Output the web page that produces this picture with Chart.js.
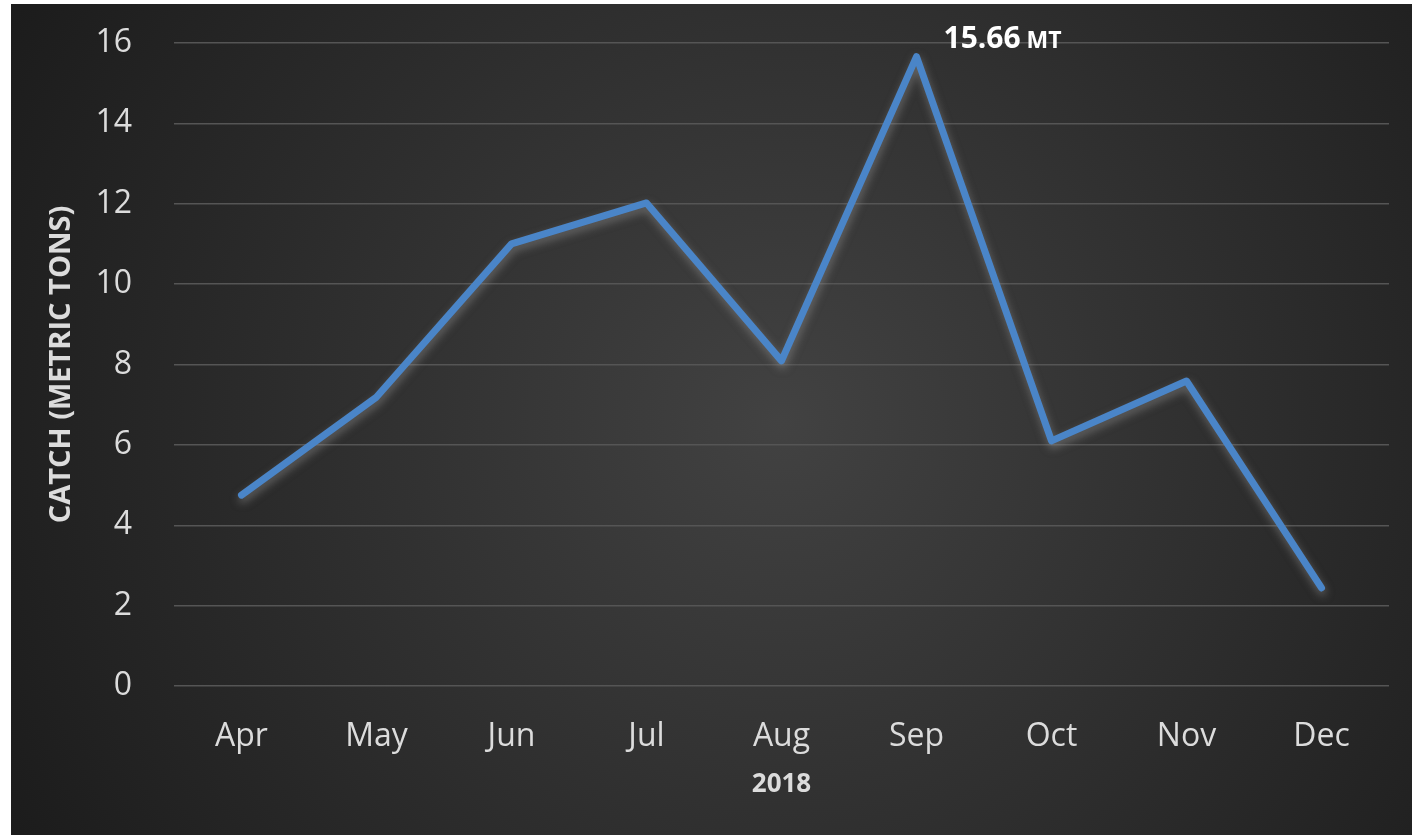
<!DOCTYPE html>
<html><head><meta charset="utf-8">
<script src="https://cdn.jsdelivr.net/npm/chart.js@4.4.1/dist/chart.umd.min.js"></script>
<style>
html,body{margin:0;padding:0;background:#fff;width:1412px;height:836px;overflow:hidden}
#wrap{position:absolute;left:11px;top:4px;width:1401px;height:831px;}
</style></head>
<body><div id="wrap"><canvas id="c"></canvas></div>
<script>
const months = ["Apr","May","Jun","Jul","Aug","Sep","Oct","Nov","Dec"];
const catchTons = [4.75, 7.19, 11.0, 12.02, 8.09, 15.66, 6.1, 7.59, 2.44];
const peakIndex = 5;
const peakValueText = "15.66";
const peakUnitText = "MT";
const yAxisTitle = "CATCH (METRIC TONS)";
const xAxisTitle = "2018";

const FONT = "'Open Sans', 'Noto Sans', sans-serif";

const bgPlugin = {
  id: 'bg',
  beforeDraw(chart) {
    const {ctx, width, height} = chart;
    ctx.save();
    const g = ctx.createRadialGradient(width*0.55, height*0.5, 0, width*0.55, height*0.5, width*0.62);
    g.addColorStop(0, '#424242');
    g.addColorStop(1, '#1c1c1c');
    ctx.fillStyle = g;
    ctx.fillRect(0, 0, width, height);
    ctx.restore();
  }
};

const shadowPlugin = {
  id: 'lineShadow',
  beforeDatasetDraw(chart) {
    const ctx = chart.ctx;
    ctx.save();
    ctx.shadowColor = 'rgba(150,150,150,0.55)';
    ctx.shadowBlur = 9;
    ctx.shadowOffsetX = 1;
    ctx.shadowOffsetY = 4;
  },
  afterDatasetDraw(chart) {
    chart.ctx.restore();
  }
};

const labelPlugin = {
  id: 'peakLabel',
  afterDatasetsDraw(chart) {
    const meta = chart.getDatasetMeta(0);
    const pt = meta.data[peakIndex];
    const ctx = chart.ctx;
    ctx.save();
    ctx.fillStyle = '#ffffff';
    ctx.textBaseline = 'alphabetic';
    ctx.textAlign = 'left';
    ctx.font = "bold 30px " + FONT;
    const x0 = pt.x + 27;
    const base = pt.y - 9;
    ctx.fillText(peakValueText, x0, base);
    const w = ctx.measureText(peakValueText + " ").width;
    ctx.font = "bold 23px " + FONT;
    ctx.fillText(peakUnitText, x0 + w - 2, base);
    ctx.restore();
  }
};

new Chart(document.getElementById('c'), {
  type: 'line',
  data: {
    labels: months,
    datasets: [{
      data: catchTons,
      borderColor: '#4A85C8',
      borderWidth: 7,
      borderCapStyle: 'round',
      borderJoinStyle: 'round',
      pointRadius: 0,
      pointHoverRadius: 0,
      tension: 0,
      fill: false
    }]
  },
  options: {
    responsive: true,
    maintainAspectRatio: false,
    animation: false,
    events: [],
    layout: { padding: { top: 39, right: 23, left: 0, bottom: 0 } },
    plugins: { legend: { display: false }, tooltip: { enabled: false } },
    scales: {
      x: {
        offset: true,
        grid: { display: false, drawTicks: false },
        border: { display: false },
        ticks: { color: '#dcdcdc', font: { family: FONT, size: 32 }, padding: 32, maxRotation: 0 },
        title: { display: true, text: xAxisTitle, color: '#dcdcdc', font: { family: FONT, size: 26, weight: 'bold' }, padding: { top: 6, bottom: 35 } },
        afterFit(s) { s.height = 149; }
      },
      y: {
        min: 0, max: 16,
        grid: { color: '#555555', lineWidth: 1.5, drawTicks: true, tickLength: 42, tickColor: 'rgba(0,0,0,0)' },
        border: { display: false },
        ticks: { stepSize: 2, color: '#dcdcdc', font: { family: FONT, size: 32 }, padding: 0 },
        title: { display: true, text: yAxisTitle, color: '#dcdcdc', font: { family: FONT, size: 29, weight: 'bold' }, padding: { top: 33, bottom: 0 } },
        afterFit(s) { s.width = 163; }
      }
    }
  },
  plugins: [bgPlugin, shadowPlugin, labelPlugin]
});
</script>
</body></html>
